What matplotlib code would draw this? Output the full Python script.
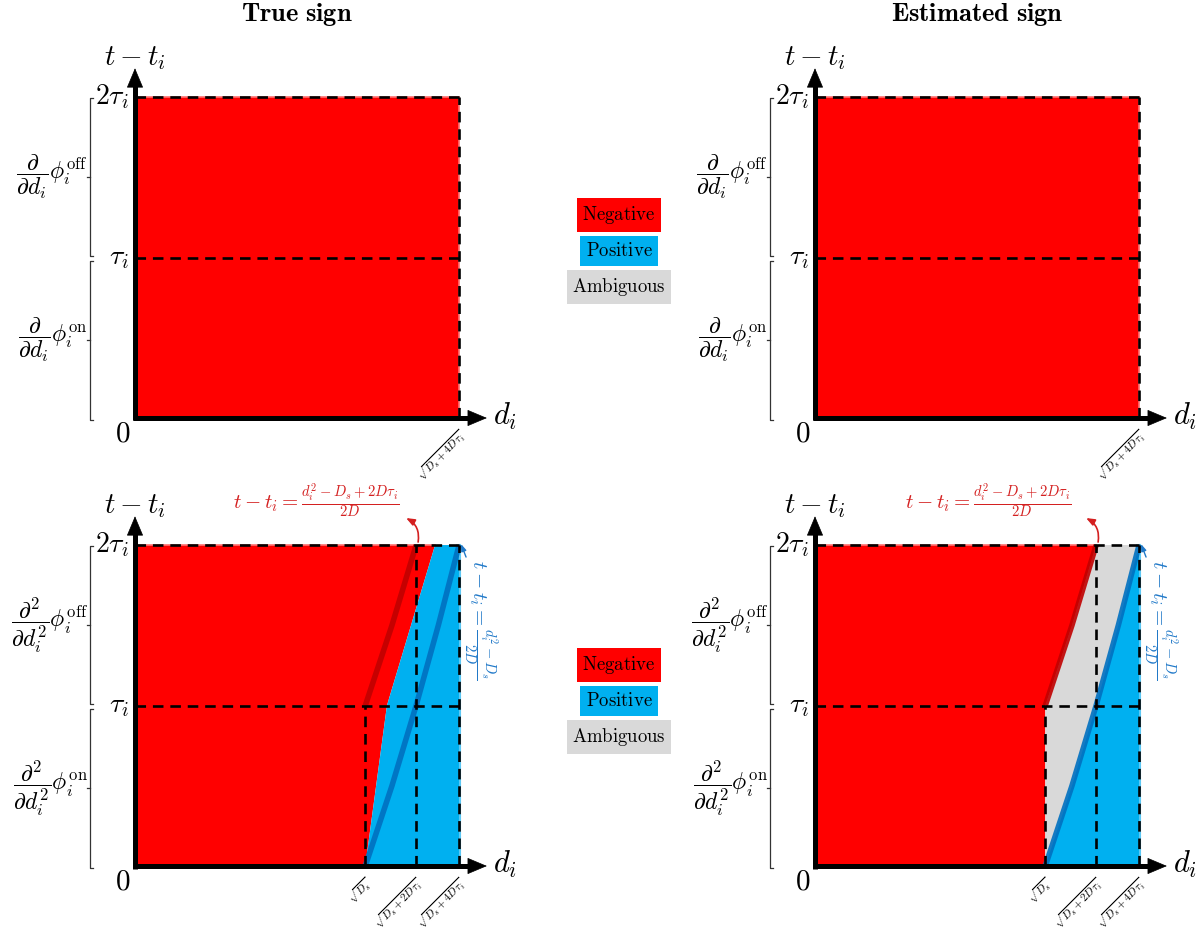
import numpy as np
import matplotlib.pyplot as plt

plt.rcParams['mathtext.fontset'] = 'cm'
plt.rcParams['font.family'] = ['DejaVu Serif']

# chart values (d in units of sqrt(D_s), t in units of the same scale)
tau = 0.245
t_ticks = [0.0, 0.245, 0.49]
t_tick_labels = ['$0$', r'$\tau_i$', r'$2\tau_i$']
d_ticks = [1.0, 1.2207, 1.4071]
d_tick_labels = [r'$\sqrt{D_s}$', r'$\sqrt{D_s+2D\tau_i}$', r'$\sqrt{D_s+4D\tau_i}$']
d_max = 1.4071

# t - t_i = (d^2 - D_s) / 2D
blue_d = [1.0, 1.1158, 1.2207, 1.3172, 1.4071]
blue_t = [0.0, 0.1225, 0.245, 0.3675, 0.49]
# t - t_i = (d^2 - D_s + 2D tau) / 2D
red_d = [1.0, 1.1158, 1.2207]
red_t = [0.245, 0.3675, 0.49]
# true sign boundary
true_d = [1.0, 1.094, 1.303]
true_t = [0.0, 0.245, 0.49]

legend_labels = ['Negative', 'Positive', 'Ambiguous']
RED = '#ff0000'
BLUE = '#00b0f0'
GRAY = '#d9d9d9'
legend_colors = [RED, BLUE, GRAY]
DARKRED = '#c00000'
DARKBLUE = '#0070c0'

W, H = 1201, 930
SX, SY = 230.3, 655.0

fig = plt.figure(figsize=(W / 100, H / 100), dpi=100)


def make_axes(ox, oy):
    ax = fig.add_axes([ox / W, 1 - oy / H, 380 / W, 370 / H])
    ax.set_xlim(0, 380 / SX)
    ax.set_ylim(0, 370 / SY)
    ax.axis('off')
    return ax


def dashed(ax, xs, ys):
    ax.plot(xs, ys, color='k', lw=1.9, ls=(0, (4, 2.6)), zorder=5, clip_on=False)


def arrow(ax, x0, y0, x1, y1):
    # thick shaft, then a plain triangular head
    hx = x1 - 14 / SX if x1 != x0 else x0
    hy = y1 - 14 / SY if y1 != y0 else y0
    ax.plot([x0, hx], [y0, hy], color='k', lw=3.6,
            solid_capstyle='butt', clip_on=False, zorder=8)
    ax.annotate('', xy=(x1, y1), xytext=(hx, hy),
                arrowprops=dict(arrowstyle='-|>,head_length=1.0,head_width=0.42', lw=0.5,
                                color='k', shrinkA=0, shrinkB=0, mutation_scale=13),
                annotation_clip=False, zorder=9)


def frame(ax, deriv, tick_idx):
    px = lambda n: n / SX
    py = lambda n: n / SY
    arrow(ax, -px(2.5), 0, 1.528, 0)
    arrow(ax, 0, -py(2.5), 0, 0.534)
    ax.text(0, 0.534 + py(10), r'$t-t_i$', fontsize=21, ha='center', va='center')
    ax.text(1.528 + px(6), py(2), r'$d_i$', fontsize=22, ha='left', va='center')
    # y tick labels
    ax.text(-px(5), -py(15), t_tick_labels[0], fontsize=21, ha='right', va='center')
    for t, lab in zip(t_ticks[1:], t_tick_labels[1:]):
        ax.text(-px(6), t, lab, fontsize=20, ha='right', va='center')
    # x tick labels
    for i in tick_idx:
        ax.text(d_ticks[i] - px(1), -py(9), d_tick_labels[i], fontsize=8, rotation=45,
                ha='right', va='top', rotation_mode='anchor')
    # brackets with derivative labels
    bx = -px(45)
    for (y0, y1), lab in zip([(0 - py(2), tau - py(3)), (tau + py(2), 2 * tau - py(1))], deriv):
        ax.plot([bx + px(3), bx, bx, bx + px(3)], [y0, y0, y1, y1], color='#333333',
                lw=0.9, clip_on=False)
        ym = (y0 + y1) / 2
        ax.plot([bx - px(3), bx], [ym, ym], color='#333333', lw=0.9, clip_on=False)
        ax.text(bx - px(2), ym, lab, fontsize=17, ha='right', va='center')


d1 = [r'$\dfrac{\partial}{\partial d_i}\phi_i^{\rm on}$', r'$\dfrac{\partial}{\partial d_i}\phi_i^{\rm off}$']
d2 = [r'$\dfrac{\partial^2}{\partial d_i^2}\phi_i^{\rm on}$', r'$\dfrac{\partial^2}{\partial d_i^2}\phi_i^{\rm off}$']

# top panels
for ox in (135, 815):
    ax = make_axes(ox, 418)
    ax.fill([0, d_max, d_max, 0], [0, 0, 2 * tau, 2 * tau], facecolor=RED,
            edgecolor='#ff7070', lw=1.2, zorder=1)
    dashed(ax, [0, d_max], [tau, tau])
    dashed(ax, [0, d_max], [2 * tau, 2 * tau])
    dashed(ax, [d_max, d_max], [0, 2 * tau])
    frame(ax, d1, [2])

# bottom panels
red_lab = r'$t-t_i=\frac{d_i^2-D_s+2D\tau_i}{2D}$'
blue_lab = r'$t-t_i=\frac{d_i^2-D_s}{2D}$'

for k, ox in enumerate((135, 815)):
    ax = make_axes(ox, 866)
    if k == 0:
        ax.fill([0] + true_d + [0], [0] + true_t + [2 * tau],
                facecolor=RED, edgecolor='none', zorder=1)
        ax.fill(true_d + [d_max, d_max], true_t + [2 * tau, 0],
                facecolor=BLUE, edgecolor='none', zorder=1)
        ax.plot([0, true_d[-1]], [2 * tau, 2 * tau], color='#ff7070', lw=1.2, zorder=1)
    else:
        ax.fill([0, red_d[0]] + red_d + [0], [0, 0] + red_t + [2 * tau],
                facecolor=RED, edgecolor='none', zorder=1)
        ax.fill(blue_d + red_d[::-1] + [red_d[0]], blue_t + red_t[::-1] + [0],
                facecolor=GRAY, edgecolor='none', zorder=1)
        ax.fill(blue_d + [d_max, d_max], blue_t + [2 * tau, 0],
                facecolor=BLUE, edgecolor='none', zorder=1)
        ax.plot([0, red_d[-1]], [2 * tau, 2 * tau], color='#ff7070', lw=1.2, zorder=1)
    ax.plot([d_max + 1 / SX] * 2, [0, 2 * tau], color='#5cc8f5', lw=1.5, zorder=1)
    ax.plot(red_d, red_t, color=DARKRED, lw=4, alpha=0.9, zorder=3, solid_capstyle='butt')
    ax.plot(blue_d, blue_t, color=DARKBLUE, lw=4, alpha=0.9, zorder=3, solid_capstyle='butt')
    dashed(ax, [0, d_max], [tau, tau])
    dashed(ax, [0, d_max], [2 * tau, 2 * tau])
    dashed(ax, [d_ticks[0], d_ticks[0]], [0, tau])
    dashed(ax, [d_ticks[1], d_ticks[1]], [0, 2 * tau])
    dashed(ax, [d_max, d_max], [0, 2 * tau])
    frame(ax, d2, [0, 1, 2])
    # annotations
    ax.text(red_d[-1] - 100 / SX - (8 / SX if k else 0), 2 * tau + 44 / SY, red_lab,
            fontsize=15, color='#d42020', ha='center', va='center')
    ax.annotate('', xy=(red_d[-1] - 10 / SX, 2 * tau + 27 / SY),
                xytext=(red_d[-1] + 2 / SX, 2 * tau + 3 / SY),
                arrowprops=dict(arrowstyle='-|>,head_length=0.5,head_width=0.2', color='#d42020',
                                lw=1.2, connectionstyle='arc3,rad=0.35', shrinkA=0, shrinkB=0),
                annotation_clip=False)
    ax.text(d_max + 21 / SX, 2 * tau - 75 / SY, blue_lab, fontsize=15, color='#1f78c8',
            rotation=-90, ha='center', va='center')
    ax.annotate('', xy=(d_max + 2 / SX, 2 * tau + 1 / SY),
                xytext=(d_max + 7 / SX, 2 * tau - 12 / SY),
                arrowprops=dict(arrowstyle='-|>,head_length=0.4,head_width=0.15', color='#1f78c8',
                                lw=1.0, shrinkA=0, shrinkB=0),
                annotation_clip=False)

# titles
fig.text(297 / W, 1 - 14 / H, r'$\mathbf{True\ sign}$', fontsize=19, ha='center', va='center')
fig.text(977 / W, 1 - 14 / H, r'$\mathbf{Estimated\ sign}$', fontsize=19, ha='center', va='center')

# legends
for y0 in (215, 665):
    for j, (lab, col) in enumerate(zip(legend_labels, legend_colors)):
        fig.text(619 / W, 1 - (y0 + 36 * j) / H, r'$\mathrm{' + lab + '}$', fontsize=13.5,
                 ha='center', va='center',
                 bbox=dict(boxstyle='square,pad=0.3', fc=col, ec='none'))

fig.savefig('out.png', dpi=100)
